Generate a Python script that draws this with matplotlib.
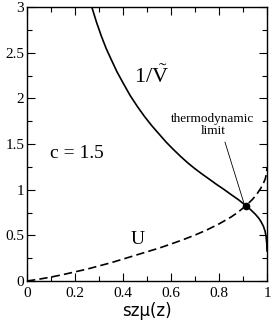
import numpy as np
import matplotlib as mpl
mpl.use('Agg')
mpl.rcParams['xtick.direction'] = 'in'
mpl.rcParams['ytick.direction'] = 'in'
mpl.rcParams['mathtext.fontset'] = 'custom'
mpl.rcParams['mathtext.rm'] = 'Liberation Serif'
mpl.rcParams['mathtext.it'] = 'Liberation Serif:italic'
from matplotlib import pyplot as plt

# - Data
inv_v_x = [0.27, 0.29, 0.31, 0.33, 0.35, 0.375, 0.40, 0.43, 0.46, 0.49, 0.52,
           0.55, 0.58, 0.61, 0.64, 0.67, 0.70, 0.73, 0.76, 0.79, 0.82, 0.85,
           0.88, 0.9125, 0.93, 0.95, 0.965, 0.975, 0.985, 0.992, 0.996, 0.999, 1.0]
inv_v_y = [3.0, 2.83, 2.68, 2.545, 2.43, 2.29, 2.17, 2.03, 1.91, 1.80, 1.70,
           1.61, 1.52, 1.44, 1.364, 1.293, 1.229, 1.17, 1.114, 1.057, 1.004, 0.947,
           0.892, 0.825, 0.785, 0.735, 0.69, 0.65, 0.60, 0.545, 0.49, 0.41, 0.33]

u_x = [0.0, 0.05, 0.1, 0.15, 0.2, 0.25, 0.3, 0.35, 0.4, 0.45, 0.5, 0.55, 0.6,
       0.65, 0.7, 0.75, 0.8, 0.85, 0.88, 0.9125, 0.94, 0.96, 0.975, 0.985,
       0.993, 0.998, 1.0]
u_y = [0.0, 0.02, 0.043, 0.07, 0.10, 0.13, 0.165, 0.20, 0.24, 0.28, 0.32, 0.36, 0.405,
       0.452, 0.503, 0.56, 0.625, 0.70, 0.755, 0.825, 0.895, 0.96, 1.02, 1.07,
       1.12, 1.18, 1.24]

limit_x = 0.9125
limit_y = 0.825

xticks = [0, 0.2, 0.4, 0.6, 0.8, 1]
xticklabels = ['0', '0.2', '0.4', '0.6', '0.8', '1']
yticks = [0, 0.5, 1, 1.5, 2, 2.5, 3]
yticklabels = ['0', '0.5', '1', '1.5', '2', '2.5', '3']

serif = 'Liberation Serif'

fig = plt.figure(figsize=(2.73, 3.24), dpi=100)
ax = fig.add_axes([27/273, 1-281/324, 240/273, 274/324])

ax.plot(inv_v_x, inv_v_y, color='black', lw=1.2)
line_u, = ax.plot(u_x, u_y, color='black', lw=1.2)
line_u.set_dashes((5, 2.5))
ax.plot([limit_x], [limit_y], 'o', color='black', markersize=4.5, zorder=5)

# - Annotation line
ax.plot([0.825, 0.903], [1.52, 0.86], color='black', lw=0.6)

ax.text(0.52, 2.25, r'$\mathrm{1/\tilde{V}}$', fontsize=16, ha='center', va='center')
ax.text(0.096, 1.40, 'c = 1.5', fontsize=14, family=serif, ha='left', va='center')
ax.text(0.46, 0.45, 'U', fontsize=14, family=serif, ha='center', va='center')
ax.text(0.775, 1.71, 'thermodynamic\nlimit', fontsize=9.5, family=serif,
        ha='center', va='center', linespacing=0.95)

ax.set_xlim(0, 1)
ax.set_ylim(0, 3)
ax.set_xticks(xticks)
ax.set_xticklabels(xticklabels, family=serif, fontsize=11)
ax.set_yticks(yticks)
ax.set_yticklabels(yticklabels, family=serif, fontsize=11)
ax.set_xticks(np.arange(0.1, 1.0, 0.2), minor=True)
ax.set_yticks(np.arange(0.25, 3.0, 0.5), minor=True)
ax.tick_params(which='both', top=True, right=True, width=0.8)
ax.tick_params(which='major', length=6)
ax.tick_params(which='minor', length=3.5)
ax.tick_params(axis='x', which='major', pad=4)
ax.tick_params(axis='y', which='major', pad=2)
for s in ax.spines.values():
    s.set_linewidth(1.0)

ax.set_xlabel(u'sz\u03bc(z)', fontsize=12, family='DejaVu Sans', labelpad=2)

plt.savefig('out.png', dpi=100)
